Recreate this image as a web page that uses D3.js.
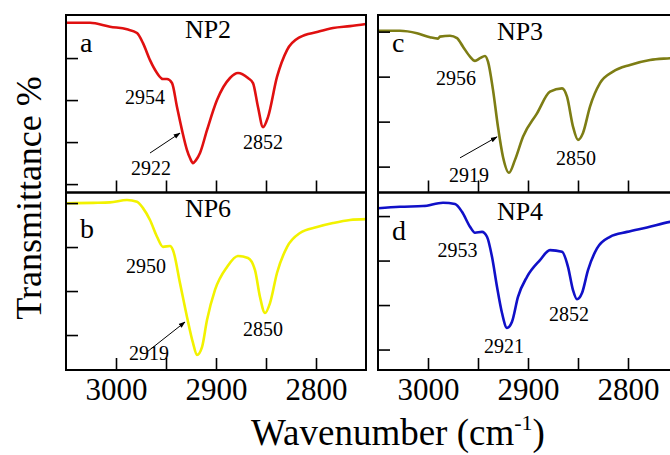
<!DOCTYPE html>
<html><head><meta charset="utf-8">
<script src="https://cdn.jsdelivr.net/npm/d3@7"></script>
<style>body{margin:0;background:#fff;} svg{display:block;} svg text{font-family:"Liberation Serif",serif;}</style>
</head><body>
<svg id="chart" width="670" height="455"></svg>
<script>
// ---------- DATA ----------
const wnNP2 = [3049,3026,3006,2989,2979,2973,2966,2959,2953,2949,2944,2939,2934,2929,2926,2923,2920,2916,2909,2899,2886,2878,2868,2863,2858,2853,2848,2839,2829,2816,2799,2783,2766,2750];
const tNP2  = [96.8,96.8,94.9,93.7,91.9,87.1,79.0,72.9,70.0,70.0,68.1,56.7,45.7,36.2,32.4,30.0,31.4,34.8,45.7,60.0,70.5,72.9,70.5,68.1,56.7,47.1,51.9,71.0,83.8,90.0,92.4,94.3,95.2,96.2];

const wnNP6 = [3049,3023,3006,2989,2979,2973,2966,2959,2953,2946,2943,2936,2929,2923,2919,2914,2909,2901,2889,2878,2868,2861,2856,2851,2846,2839,2829,2816,2799,2783,2766,2750];
const tNP6  = [79.9,80.1,80.3,81.4,80.6,77.7,72.3,64.7,60.1,60.5,58.6,43.6,28.2,16.4,10.9,14.5,26.8,40.5,50.9,55.9,55.0,49.5,37.3,30.0,34.5,48.2,60.0,66.4,69.1,70.9,72.3,72.7];

const wnNP3 = [3050,3028,3011,2998,2990,2988,2978,2971,2965,2958,2953,2948,2943,2940,2935,2930,2925,2919,2913,2905,2891,2878,2866,2861,2855,2850,2845,2838,2828,2815,2798,2778,2758,2750];
const tNP3  = [80.4,80.4,79.3,77.5,76.9,77.8,78.2,77.1,73.3,68.9,67.0,68.2,69.2,66.7,54.1,37.6,24.3,17.3,23.0,33.3,43.7,53.3,54.8,51.1,37.8,31.9,35.0,46.7,57.1,62.2,65.2,67.4,68.2,68.5];

const wnNP4 = [3050,3028,3005,2985,2973,2966,2958,2953,2946,2941,2936,2931,2926,2921,2916,2910,2901,2888,2878,2866,2860,2855,2851,2846,2840,2831,2818,2801,2781,2758,2750];
const tNP4  = [83.5,84.2,84.5,86.0,85.4,81.9,75.2,72.5,72.9,70.7,61.7,48.2,36.4,29.7,32.5,43.7,52.7,60.2,64.7,64.0,57.2,46.7,42.6,45.4,55.7,65.5,70.7,72.9,74.9,77.4,78.0];

const xTicks = [3000, 2950, 2900, 2850, 2800];
const xTickLabels = ["3000", "", "2900", "", "2800"];
const yTicks = [20, 40, 60, 80];

const sampleNames = ["NP2", "NP6", "NP3", "NP4"];
const panelLetters = ["a", "b", "c", "d"];

// peak annotations: [wavenumber, value, label]
const peaksNP2 = [[2971, 58.1, "2954"], [2965, 24.3, "2922"], [2853, 36.7, "2852"]];
const peaksNP6 = [[2970, 48.2, "2950"], [2967, 8.6, "2919"], [2853, 19.5, "2850"]];
const peaksNP3 = [[2972, 56.3, "2956"], [2959, 13.2, "2919"], [2852, 20.8, "2850"]];
const peaksNP4 = [[2970.5, 61.6, "2953"], [2924, 18.4, "2921"], [2859, 32.8, "2852"]];

// arrows: [fromWn, fromT, toWn, toT]
const arrowNP2 = [2966, 34.8, 2936, 44.3];
const arrowNP6 = [2969, 12.3, 2931, 25.9];
const arrowNP3 = [2968, 23.9, 2931, 33.2];

// ---------- LAYOUT ----------
const svg = d3.select("#chart");
const pw = 300, ph = 177.5;
const panels = [
  {name: sampleNames[0], letter: panelLetters[0], wn: wnNP2, t: tNP2, color: "#e01010", x0: 66,  y0: 15,    yDom: [16, 100.5], peaks: peaksNP2, arrow: arrowNP2, labels: false, nameT: 89.5, letterT: 82.9},
  {name: sampleNames[1], letter: panelLetters[1], wn: wnNP6, t: tNP6, color: "#f2f200", x0: 66,  y0: 192.5, yDom: [4.1, 84.8], peaks: peaksNP6, arrow: arrowNP6, labels: true,  nameT: 73.6, letterT: 64.1},
  {name: sampleNames[2], letter: panelLetters[2], wn: wnNP3, t: tNP3, color: "#7d7d14", x0: 378, y0: 15,    yDom: [8.5, 87.4], peaks: peaksNP3, arrow: arrowNP3, labels: false, nameT: 76.3, letterT: 71.0},
  {name: sampleNames[3], letter: panelLetters[3], wn: wnNP4, t: tNP4, color: "#1010c8", x0: 378, y0: 192.5, yDom: [10.8, 90.6], peaks: peaksNP4, arrow: null, labels: true, nameT: 78.2, letterT: 69.2}
];

const defs = svg.append("defs");
defs.append("marker").attr("id", "ah").attr("viewBox", "0 0 10 10").attr("refX", 9).attr("refY", 5)
  .attr("markerWidth", 7).attr("markerHeight", 7).attr("orient", "auto").attr("markerUnits", "userSpaceOnUse")
  .append("path").attr("d", "M0,1.5 L10,5 L0,8.5 Z").attr("fill", "#000");

panels.forEach(p => {
  const x = d3.scaleLinear().domain([3050, 2750]).range([p.x0, p.x0 + pw]);
  const y = d3.scaleLinear().domain(p.yDom).range([p.y0 + ph, p.y0]);
  const g = svg.append("g");

  const data = p.wn.map((w, i) => [w, p.t[i]]);
  g.append("path").datum(data)
    .attr("fill", "none").attr("stroke", p.color).attr("stroke-width", 2.6).attr("stroke-linejoin", "round")
    .attr("d", d3.line().x(d => x(d[0])).y(d => y(d[1])).curve(d3.curveMonotoneX));

  const xa = g.append("g").attr("transform", `translate(0,${p.y0 + ph})`)
    .call(d3.axisBottom(x).tickValues(xTicks).tickSizeInner(-12).tickSizeOuter(0)
      .tickFormat((d, i) => p.labels ? xTickLabels[i] : ""));
  xa.attr("font-family", null);
  xa.select(".domain").remove();
  xa.selectAll("line").attr("stroke", "#000").attr("stroke-width", 1.6);
  xa.selectAll("text").style("font-size", "31px").attr("fill", "#000").attr("dy", "0").attr("y", 30);

  const ya = g.append("g").attr("transform", `translate(${p.x0},0)`)
    .call(d3.axisLeft(y).tickValues(yTicks).tickSizeInner(-12).tickSizeOuter(0).tickFormat(""));
  ya.select(".domain").remove();
  ya.selectAll("line").attr("stroke", "#000").attr("stroke-width", 1.6);

  g.append("rect").attr("x", p.x0).attr("y", p.y0).attr("width", pw).attr("height", ph)
    .attr("fill", "none").attr("stroke", "#000").attr("stroke-width", 2);

  g.append("text").attr("x", x(2908)).attr("y", y(p.nameT)).attr("text-anchor", "middle")
    .style("font-size", "26px").text(p.name);
  g.append("text").attr("x", x(3036)).attr("y", y(p.letterT)).attr("text-anchor", "start")
    .style("font-size", "28px").text(p.letter);

  p.peaks.forEach(pk => {
    g.append("text").attr("x", x(pk[0])).attr("y", y(pk[1])).attr("text-anchor", "middle")
      .style("font-size", "20px").text(pk[2]);
  });

  if (p.arrow) {
    g.append("line").attr("x1", x(p.arrow[0])).attr("y1", y(p.arrow[1]))
      .attr("x2", x(p.arrow[2])).attr("y2", y(p.arrow[3]))
      .attr("stroke", "#000").attr("stroke-width", 1).attr("marker-end", "url(#ah)");
  }
});

svg.append("text").attr("transform", "translate(41,198) rotate(-90)").attr("text-anchor", "middle")
  .style("font-size", "36px").text("Transmittance %");
const xt = svg.append("text").attr("x", 398).attr("y", 445).attr("text-anchor", "middle")
  .style("font-size", "37px");
xt.append("tspan").text("Wavenumber (cm");
xt.append("tspan").style("font-size", "22px").attr("dy", -15).text("-1");
xt.append("tspan").attr("dy", 15).text(")");
</script>
</body></html>
